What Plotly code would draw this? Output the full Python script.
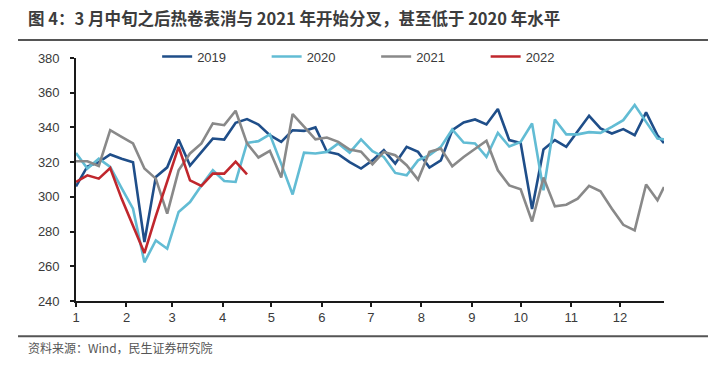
import pandas as pd
import plotly.graph_objects as go

# weekly observation dates (plotted on a common calendar year)
week_dates = list(pd.date_range("2021-01-01", periods=52, freq="7D").strftime("%Y-%m-%d")) + ["2021-12-28"]

s2019 = [306, 317.5, 320, 324.4, 322, 320, 274, 311.5, 317, 333,
         318, 325.5, 333.6, 333, 342.7, 344.8, 341.7, 335.5, 331.7, 338.4,
         338, 340, 326, 324.6, 320, 316.3, 321, 326.9, 319.2, 328.8,
         325.9, 316.9, 321, 338.4, 342.9, 344.6, 341.7, 350.6, 332.7, 331,
         293, 327.3, 332.7, 328.8, 338, 346.7, 339.4, 336.5, 339, 335.5,
         348.7, 335.5, 331]
s2020 = [325.3, 316.3, 322, 317.2, 305, 293.2, 262.3, 274.9, 270.1, 291.3,
         297, 306.6, 315.3, 309.1, 308.6, 331.1, 332.1, 336, 319, 301.4,
         325.5, 325, 325.9, 330.8, 325.5, 333.1, 326.3, 323, 313.8, 312.4,
         321, 324, 328.8, 338.8, 331.3, 330.8, 323, 336.9, 329, 331.7,
         342.3, 303.8, 344.6, 336, 336, 337.3, 336.9, 340.3, 344.2, 352.9,
         343.2, 333.6, 333.1]
s2021 = [320.5, 320.5, 317.8, 338.4, 334.6, 330.8, 316.3, 310.5, 290.3, 315.3,
         325, 330.8, 342.3, 341.3, 349.6, 330.8, 322.7, 326.5, 311.1, 347.7,
         340.4, 333.1, 334.2, 331.7, 327.3, 326, 318.8, 325.9, 324, 318.2,
         309.9, 325.9, 327.9, 317.6, 323, 327.9, 332.3, 315.3, 306.6, 304.3,
         285.8, 311.1, 294.5, 295.5, 299, 306.3, 303.2, 293.2, 283.9, 280.7,
         307.1, 298, 305.7]
s2022 = [308.6, 312.4, 310.5, 316.6, 299, 283, 267.6, 288.9, 309, 328.8,
         309.5, 306.3, 313.4, 313.4, 320.3, 313]

series_names = ["2019", "2020", "2021", "2022"]
series_values = [s2019, s2020, s2021, s2022]
series_colors = ["#1F4E89", "#62BCD4", "#898989", "#C0272D"]

x_range = ["2021-01-01", "2021-12-28"]
y_range = [240, 380]

title_text = "图 4：3 月中旬之后热卷表消与 2021 年开始分叉，甚至低于 2020 年水平"
source_text = "资料来源：Wind，民生证券研究院"

fig = go.Figure()
for name, vals, col in zip(series_names, series_values, series_colors):
    fig.add_trace(go.Scatter(
        x=week_dates[:len(vals)], y=vals, name=name, mode="lines",
        line=dict(color=col, width=2.6),
    ))

axis_font = dict(family="Liberation Sans, Arial, sans-serif", size=13, color="#3a3a3a")

fig.update_layout(
    width=725, height=370,
    margin=dict(l=76, r=61, t=58, b=69, autoexpand=False),
    paper_bgcolor="white", plot_bgcolor="white",
    showlegend=True,
    legend=dict(
        orientation="h", x=0.138, y=1.006, xanchor="left", yanchor="middle",
        font=axis_font, entrywidth=64.5, entrywidthmode="pixels",
        bgcolor="rgba(0,0,0,0)", tracegroupgap=0, itemwidth=30,
    ),
    xaxis=dict(
        type="date", range=x_range, tick0="2021-01-01", dtick="M1",
        tickformat="%-m", ticks="outside", ticklen=4, tickwidth=1.5,
        tickcolor="#1a1a1a", showline=True, linecolor="#1a1a1a", linewidth=1.6,
        showgrid=False, zeroline=False, tickfont=axis_font,
    ),
    yaxis=dict(
        range=y_range, dtick=20, tick0=240, ticks="outside", ticklen=4,
        tickwidth=1.5, tickcolor="#1a1a1a", showline=True, linecolor="#1a1a1a",
        linewidth=1.6, showgrid=False, zeroline=False, tickfont=axis_font,
        ticklabelstandoff=8,
    ),
    annotations=[
        dict(text=title_text, xref="paper", yref="paper", x=-0.085, y=1.165,
             xanchor="left", yanchor="middle", showarrow=False,
             font=dict(family="Noto Sans CJK SC", size=16.5, color="#3c3c3c", weight="bold")),
        dict(text=source_text, xref="paper", yref="paper", x=-0.085, y=-0.19,
             xanchor="left", yanchor="middle", showarrow=False,
             font=dict(family="Noto Sans CJK SC", size=12, color="#555555")),
    ],
    shapes=[
        dict(type="line", xref="paper", yref="paper", x0=-0.0986, x1=1.0748,
             y0=1.074, y1=1.074, line=dict(color="#555555", width=2)),
        dict(type="line", xref="paper", yref="paper", x0=-0.0986, x1=1.0748,
             y0=-0.145, y1=-0.145, line=dict(color="#555555", width=2)),
    ],
)

fig.write_html("out.html", config={"displayModeBar": False},
               post_script="document.body.style.margin='0';")
